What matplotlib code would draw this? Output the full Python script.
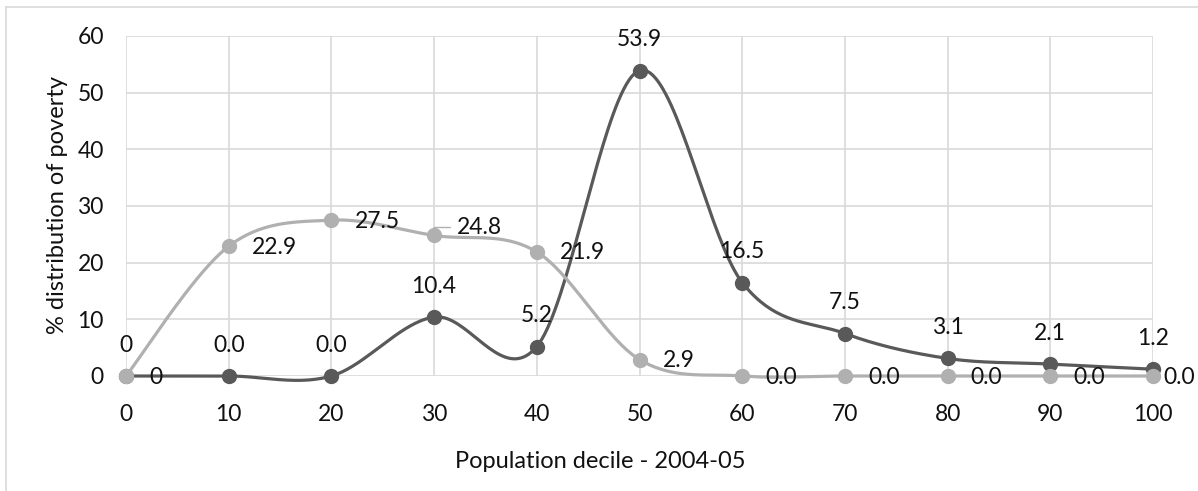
import numpy as np
import matplotlib.pyplot as plt
from matplotlib.lines import Line2D

# data
decile = [0, 10, 20, 30, 40, 50, 60, 70, 80, 90, 100]
poverty_dark = [0, 0, 0, 10.4, 5.2, 53.9, 16.5, 7.5, 3.1, 2.1, 1.2]
poverty_light = [0, 22.9, 27.5, 24.8, 21.9, 2.9, 0, 0, 0, 0, 0]
labels_dark = ['0', '0.0', '0.0', '10.4', '5.2', '53.9', '16.5', '7.5', '3.1', '2.1', '1.2']
labels_light = ['0', '22.9', '27.5', '24.8', '21.9', '2.9', '0.0', '0.0', '0.0', '0.0', '0.0']

dark = '#595959'
light = '#b0b0b0'
grid_c = '#d9d9d9'
txt_c = '#111111'
fs = 16.5

plt.rcParams['font.family'] = ['Lato', 'DejaVu Sans']


def smooth(x, y, n=40):
    # excel-like smoothed line: catmull-rom segments as cubic beziers
    pts = np.column_stack([x, y]).astype(float)
    p = np.vstack([pts[0], pts, pts[-1]])
    t = np.linspace(0, 1, n)[:, None]
    out = []
    for i in range(1, len(p) - 2):
        p0, p1, p2, p3 = p[i - 1], p[i], p[i + 1], p[i + 2]
        c1 = p1 + (p2 - p0) / 6
        c2 = p2 - (p3 - p1) / 6
        seg = (1 - t) ** 3 * p1 + 3 * (1 - t) ** 2 * t * c1 + 3 * (1 - t) * t ** 2 * c2 + t ** 3 * p2
        out.append(seg)
    return np.vstack(out)


W, H = 1198, 491
fig = plt.figure(figsize=(W / 100, H / 100), dpi=100)
ax = fig.add_axes([126 / W, 1 - 376 / H, (1153 - 126) / W, (376 - 36) / H])

# outer chart border (only top and left visible)
fig.add_artist(Line2D([6 / W, 1], [1 - 7 / H, 1 - 7 / H], color=grid_c, lw=1.2, transform=fig.transFigure))
fig.add_artist(Line2D([6 / W, 6 / W], [1 - 7 / H, 0], color=grid_c, lw=1.2, transform=fig.transFigure))

sd = smooth(decile, poverty_dark)
sl = smooth(decile, poverty_light)
ax.plot(sd[:, 0], sd[:, 1], color=dark, lw=2.3, zorder=3, solid_capstyle='round')
ax.plot(decile, poverty_dark, 'o', color=dark, ms=10, zorder=3)
ax.plot(sl[:, 0], sl[:, 1], color=light, lw=2.3, zorder=4, solid_capstyle='round')
ax.plot(decile, poverty_light, 'o', color=light, ms=10, zorder=4)

for x, y, s in zip(decile, poverty_dark, labels_dark):
    ax.annotate(s, (x, y), xytext=(0, 31), textcoords='offset pixels',
                ha='center', va='center', fontsize=fs, color=txt_c, zorder=5)

for i, (x, y, s) in enumerate(zip(decile, poverty_light, labels_light)):
    if s == '24.8':
        ax.annotate(s, (x, y), xytext=(23, 8), textcoords='offset pixels',
                    ha='left', va='center', fontsize=fs, color=txt_c, zorder=5,
                    arrowprops=dict(arrowstyle='-', color=light, lw=1,
                                    connectionstyle='angle,angleA=0,angleB=90,rad=0',
                                    relpos=(0, 0.5), shrinkA=3, shrinkB=5))
    else:
        dx = 10 if i == len(decile) - 1 else 23
        ax.annotate(s, (x, y), xytext=(dx, -1), textcoords='offset pixels',
                    ha='left', va='center', fontsize=fs, color=txt_c, zorder=5)

ax.set_xlim(0, 100)
ax.set_ylim(0, 60)
ax.set_xticks(decile)
ax.set_yticks(range(0, 61, 10))
ax.grid(True, color=grid_c, lw=1.2)
ax.set_axisbelow(True)
for sp in ax.spines.values():
    sp.set_visible(False)
ax.tick_params(length=0, labelsize=fs, labelcolor=txt_c)
ax.tick_params(axis='x', pad=20)
ax.tick_params(axis='y', pad=16)
for l in ax.lines:
    l.set_clip_on(False)

fig.text(600 / W, 1 - 462 / H, 'Population decile - 2004-05', ha='center', va='center',
         fontsize=17, color=txt_c)
fig.text(58 / W, 1 - 205 / H, '% distribution of poverty', ha='center', va='center',
         rotation=90, fontsize=17, color=txt_c)

fig.savefig('out.png', dpi=100)
